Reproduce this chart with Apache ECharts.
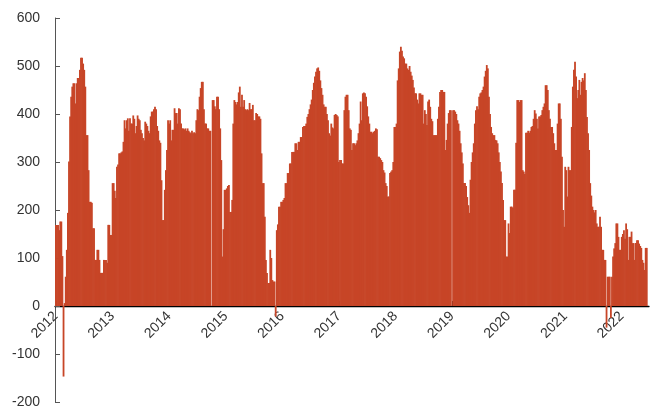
<!DOCTYPE html>
<html>
<head>
<meta charset="utf-8">
<script src="https://cdn.jsdelivr.net/npm/echarts@6/dist/echarts.min.js"></script>
<style>
  html, body { margin: 0; padding: 0; background: #fff; }
  #chart { width: 651px; height: 410px; }
</style>
</head>
<body>
<div id="chart"></div>
<script>
// weekly values, one array per year (52 evenly spaced weeks per year)
var years = [2012, 2013, 2014, 2015, 2016, 2017, 2018, 2019, 2020, 2021, 2022];

var v2012 = [169,169,169,158,176,176,104,-147,6,61,117,194,301,395,436,457,464,464,422,464,475,475,492,517,517,505,492,457,356,356,283,217,217,215,162,162,96,96,117,117,96,69,69,69,96,96,96,90,169,169,148,148];
var v2013 = [256,256,240,225,290,295,318,318,320,322,342,387,370,387,391,365,391,380,380,397,390,360,375,397,390,387,367,360,350,345,384,380,375,365,360,395,405,405,410,415,410,375,365,345,340,262,179,179,242,283,325,387];
var v2014 = [380,387,345,367,367,412,402,402,380,412,410,380,370,370,368,370,365,370,365,362,360,365,360,362,360,387,410,408,436,454,467,467,410,380,380,370,370,365,365,0,429,429,416,410,436,436,410,370,304,103,160,242];
var v2015 = [242,245,250,252,196,196,221,380,429,425,420,425,445,457,415,440,415,429,410,408,410,408,423,410,410,419,387,387,402,400,395,395,390,318,256,256,186,96,69,48,48,117,100,54,51,51,-22,158,170,207,207,217];
var v2016 = [217,221,225,256,256,277,277,297,297,321,321,321,339,339,325,342,342,352,352,373,375,375,380,394,400,410,420,430,450,465,478,488,495,497,490,470,454,440,420,415,415,400,387,360,355,380,372,370,398,400,398,395];
var v2017 = [300,304,304,297,297,408,436,440,440,408,370,367,325,339,339,335,339,345,360,380,426,387,443,445,443,436,416,395,380,363,363,360,363,365,370,368,311,311,308,304,300,283,278,256,250,228,228,277,280,283,300,373];
var v2018 = [373,380,470,495,530,540,532,520,516,505,505,495,492,500,488,480,471,455,443,443,430,422,443,443,440,440,380,408,400,377,426,430,415,390,385,356,356,356,356,390,415,446,450,450,446,446,325,346,380,402,408,408];
var v2019 = [0,408,408,405,400,387,380,365,339,320,297,256,256,250,227,210,194,263,300,320,339,380,408,416,410,436,443,445,450,457,478,490,502,495,436,400,373,360,356,356,346,345,339,320,300,280,256,221,179,179,103,103];
var v2020 = [172,152,207,207,205,242,242,340,429,429,425,429,429,283,280,275,361,361,365,361,365,373,375,390,408,401,390,370,395,395,398,408,415,422,460,460,450,408,390,373,373,360,339,325,325,380,422,422,390,311,200,165];
var v2021 = [290,283,228,290,283,283,373,457,492,509,478,433,450,471,440,467,475,470,485,450,394,360,325,256,230,207,200,195,200,172,165,165,186,165,117,117,96,96,-45,61,61,61,-25,61,103,120,131,172,172,144,117,117];
var v2022 = [144,150,158,140,172,160,96,144,144,155,131,131,96,131,137,137,130,125,121,96,90,75,121,121];

var yearValues = [v2012, v2013, v2014, v2015, v2016, v2017, v2018, v2019, v2020, v2021, v2022];

var DAY = 24 * 3600 * 1000;
var data = [];
for (var i = 0; i < years.length; i++) {
  var vals = yearValues[i];
  var start = Date.UTC(years[i], 0, 1);
  var step = (Date.UTC(years[i] + 1, 0, 1) - start) / 52;
  for (var k = 0; k < vals.length; k++) {
    data.push([start + k * step, vals[k]]);
  }
}

var myChart = echarts.init(document.getElementById("chart"));
myChart.setOption({
  useUTC: true,
  animation: false,
  textStyle: { fontFamily: "Liberation Sans" },
  grid: { left: 55, right: 2, top: 18, bottom: 8, containLabel: false, outerBoundsMode: "none" },
  xAxis: {
    type: "time",
    min: Date.UTC(2012, 0, 1),
    max: Date.UTC(2022, 5, 20),
    minInterval: 365 * DAY,
    maxInterval: 366 * DAY,
    position: "bottom",
    offset: -96, // axis drawn at y = 0 (grid height 384 px for 800 units)
    axisLine: { onZero: false, lineStyle: { color: "#000", width: 1.3 } },
    axisTick: { show: true, inside: true, length: 5, lineStyle: { color: "#000" } },
    axisLabel: {
      rotate: 45,
      fontSize: 14,
      color: "#333",
      margin: 8,
      formatter: function (v) {
        return String(new Date(v).getUTCFullYear());
      }
    },
    splitLine: { show: false }
  },
  yAxis: {
    type: "value",
    min: -200,
    max: 600,
    interval: 100,
    axisLine: { show: true, lineStyle: { color: "#555" } },
    axisTick: { show: true, inside: true, length: 5, lineStyle: { color: "#555" } },
    axisLabel: { fontSize: 14, color: "#333", margin: 15 },
    splitLine: { show: false }
  },
  series: [
    {
      type: "bar",
      data: data,
      barWidth: 1.8,
      itemStyle: { color: "#C74527", borderWidth: 0 }
    }
  ]
});
</script>
</body>
</html>
